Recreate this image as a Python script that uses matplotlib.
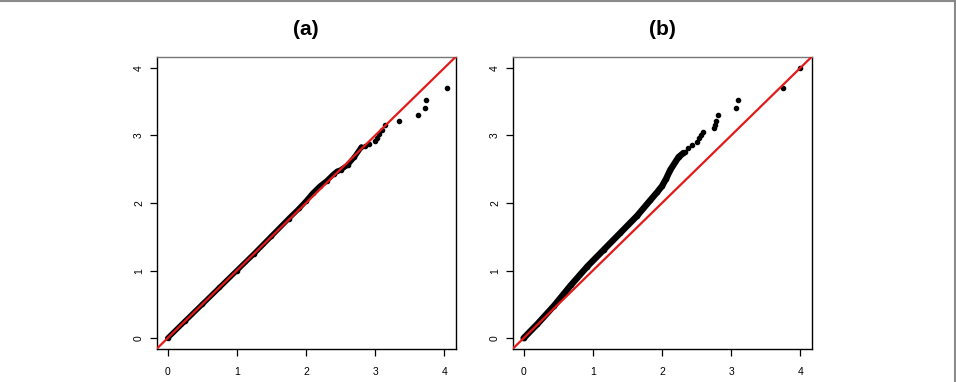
import matplotlib
matplotlib.use('Agg')
import matplotlib.pyplot as plt
from matplotlib.lines import Line2D
import numpy as np

plt.rcParams['font.family'] = ['Liberation Sans', 'DejaVu Sans']

titles = ['(a)', '(b)']
ticks = [0, 1, 2, 3, 4]

# panel (a): dense part of the QQ cloud, then the sparse tail
a_dense_x = [0.0, 0.25, 0.5, 0.75, 1.0, 1.25, 1.5, 1.75, 1.9, 2.0, 2.1, 2.2, 2.3, 2.4, 2.45, 2.5, 2.6, 2.7, 2.8]
a_dense_y = [0.0, 0.25, 0.5, 0.75, 1.0, 1.25, 1.51, 1.77, 1.92, 2.03, 2.15, 2.25, 2.33, 2.43, 2.47, 2.49, 2.56, 2.68, 2.83]
a_tail_x = [2.85, 2.91, 3.0, 3.02, 3.05, 3.1, 3.14, 3.35, 3.62, 3.72, 3.73, 4.04]
a_tail_y = [2.85, 2.88, 2.92, 2.96, 3.02, 3.08, 3.16, 3.22, 3.30, 3.40, 3.53, 3.70]

# panel (b)
b_dense_x = [0.0, 0.2, 0.44, 0.68, 0.92, 1.16, 1.40, 1.64, 1.83, 1.93, 2.0, 2.06, 2.12, 2.24, 2.31]
b_dense_y = [0.0, 0.21, 0.48, 0.78, 1.06, 1.31, 1.56, 1.81, 2.04, 2.16, 2.25, 2.36, 2.49, 2.68, 2.74]
b_tail_x = [2.33, 2.38, 2.43, 2.50, 2.53, 2.56, 2.59, 2.75, 2.76, 2.78, 2.81, 3.07, 3.10, 3.75, 4.0]
b_tail_y = [2.76, 2.82, 2.86, 2.90, 2.96, 3.00, 3.05, 3.11, 3.16, 3.22, 3.30, 3.40, 3.52, 3.70, 4.0]

panels = [(a_dense_x, a_dense_y, a_tail_x, a_tail_y, 3.8),
          (b_dense_x, b_dense_y, b_tail_x, b_tail_y, 4.6)]

fig = plt.figure(figsize=(9.56, 3.82), dpi=100)
lefts = [156.5 / 956, 512.5 / 956]
for i, (dx, dy, tx, ty, band) in enumerate(panels):
    ax = fig.add_axes([lefts[i], 33 / 382, 299 / 956, 292 / 382])
    ax.plot(dx, dy, color='black', lw=band, marker='o', ms=3.0, solid_capstyle='round', zorder=2)
    ax.plot(tx, ty, 'o', color='black', ms=3.0, zorder=2)
    ax.plot([-1, 5], [-1, 5], color='#e21a1a', lw=1.6, zorder=3)
    ax.set_xlim(-0.16, 4.16)
    ax.set_ylim(-0.16, 4.16)
    ax.set_xticks(ticks)
    ax.set_yticks(ticks)
    ax.tick_params(axis='x', length=5, width=0.9, pad=8, labelsize=7.5)
    ax.tick_params(axis='y', length=5, width=0.9, pad=4, labelsize=7.5, labelrotation=90)
    for lab in ax.get_yticklabels():
        lab.set_va('center')
    for s in ax.spines.values():
        s.set_linewidth(1.0)
    ax.spines['top'].set_color('#777777')
    ax.set_title(titles[i], fontsize=15, fontweight='bold', pad=16)

# outer frame of the figure (only the top and right edges are visible)
fig.add_artist(Line2D([0, 954.5 / 956], [381 / 382, 381 / 382], color='#8a8a8a', lw=1.5, transform=fig.transFigure))
fig.add_artist(Line2D([954.5 / 956, 954.5 / 956], [0, 381 / 382], color='#8a8a8a', lw=1.5, transform=fig.transFigure))

fig.savefig('out.png', dpi=100)
